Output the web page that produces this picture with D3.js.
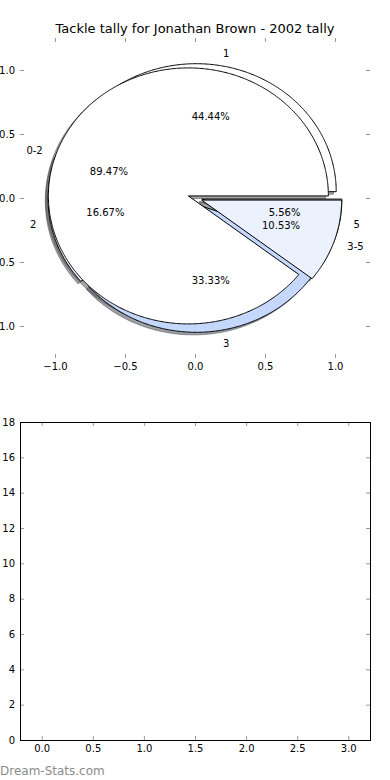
<!DOCTYPE html>
<html>
<head>
<meta charset="utf-8">
<script src="https://cdn.jsdelivr.net/npm/d3@7"></script>
<style>
body { margin: 0; background: #fff; }
svg text { font-family: "DejaVu Sans", sans-serif; }
</style>
</head>
<body>
<div id="chart"></div>
<script>
// tackles per game -> number of games
var tallyLabels = ["1", "2", "3", "5"];
var tallyCounts = [8, 3, 6, 1];
var tallyColors = ["#ffffff", "#ebf1fd", "#c5d8fc", "#ffffff"];

// grouped
var groupLabels = ["0-2", "3-5"];
var groupCounts = [17, 2];
var groupColors = ["#ffffff", "#ebf1fd"];

var explode = 0.05;
var pieTicks = [-1.0, -0.5, 0.0, 0.5, 1.0];
var barXTicks = [0, 0.5, 1, 1.5, 2, 2.5, 3];
var barYTicks = [0, 2, 4, 6, 8, 10, 12, 14, 16, 18];

var W = 390, H = 780;
var svg = d3.select("#chart").append("svg").attr("width", W).attr("height", H);

var pieBox = {left: 20, right: 370, top: 38, bottom: 358};
var barBox = {left: 20, right: 370, top: 422, bottom: 740};

var px = d3.scaleLinear().domain([-1.25, 1.25]).range([pieBox.left, pieBox.right]);
var py = d3.scaleLinear().domain([-1.25, 1.25]).range([pieBox.bottom, pieBox.top]);

var bx = d3.scaleLinear().domain([-0.2125, 3.2125]).range([barBox.left, barBox.right]);
var by = d3.scaleLinear().domain([0, 18]).range([barBox.bottom, barBox.top]);

// title
svg.append("text")
  .attr("x", (pieBox.left + pieBox.right) / 2)
  .attr("y", 33)
  .attr("text-anchor", "middle")
  .attr("font-size", 13)
  .text("Tackle tally for Jonathan Brown - 2002 tally");

// wedge geometry, angles counterclockwise from 3 o'clock like matplotlib
function wedges(counts) {
  var total = d3.sum(counts), a = 0;
  return counts.map(function (c, i) {
    var t1 = a, t2 = a + 360 * c / total;
    a = t2;
    var mid = (t1 + t2) / 2 * Math.PI / 180;
    return {
      t1: t1, t2: t2, mid: mid, i: i, frac: c / total,
      cx: explode * Math.cos(mid), cy: explode * Math.sin(mid)
    };
  });
}

function wedgePoints(w, dx, dy) {
  var pts = [[w.cx + dx, w.cy + dy]];
  var n = Math.max(4, Math.ceil((w.t2 - w.t1) * 2));
  for (var k = 0; k <= n; k++) {
    var t = (w.t1 + (w.t2 - w.t1) * k / n) * Math.PI / 180;
    pts.push([w.cx + dx + Math.cos(t), w.cy + dy + Math.sin(t)]);
  }
  return pts;
}

var line = d3.line()
  .x(function (d) { return px(d[0]); })
  .y(function (d) { return py(d[1]); });

var pies = [
  {labels: tallyLabels, colors: tallyColors, w: wedges(tallyCounts)},
  {labels: groupLabels, colors: groupColors, w: wedges(groupCounts)}
];

function shadowColor(c) {
  var rgb = d3.rgb(c);
  return d3.rgb(rgb.r * 0.3, rgb.g * 0.3, rgb.b * 0.3).toString();
}

var gPie = svg.append("g");

// shadows sit below every wedge
pies.forEach(function (p) {
  gPie.selectAll(null)
    .data(p.w)
    .enter().append("path")
    .attr("d", function (d) { return line(wedgePoints(d, -0.02, -0.02)) + "Z"; })
    .attr("fill", function (d) { return shadowColor(p.colors[d.i]); })
    .attr("stroke", function (d) { return shadowColor(p.colors[d.i]); })
    .attr("fill-opacity", 0.5)
    .attr("stroke-opacity", 0.5);
});

pies.forEach(function (p) {
  gPie.selectAll(null)
    .data(p.w)
    .enter().append("path")
    .attr("d", function (d) { return line(wedgePoints(d, 0, 0)) + "Z"; })
    .attr("fill", function (d) { return p.colors[d.i]; })
    .attr("stroke", "#000")
    .attr("stroke-width", 1)
    .attr("stroke-linejoin", "miter");
});

pies.forEach(function (p) {
  // percentages
  gPie.selectAll(null)
    .data(p.w)
    .enter().append("text")
    .attr("x", function (d) { return px(d.cx + 0.6 * Math.cos(d.mid)); })
    .attr("y", function (d) { return py(d.cy + 0.6 * Math.sin(d.mid)); })
    .attr("dy", "0.4em")
    .attr("text-anchor", "middle")
    .attr("font-size", 10)
    .text(function (d) { return (d.frac * 100).toFixed(2) + "%"; });
  // labels
  gPie.selectAll(null)
    .data(p.w)
    .enter().append("text")
    .attr("x", function (d) { return px(d.cx + 1.1 * Math.cos(d.mid)); })
    .attr("y", function (d) { return py(d.cy + 1.1 * Math.sin(d.mid)); })
    .attr("dy", "0.4em")
    .attr("text-anchor", function (d) { return Math.cos(d.mid) > 0 ? "start" : "end"; })
    .attr("font-size", 10)
    .text(function (d) { return p.labels[d.i]; });
});

function styleAxis(g) {
  g.attr("font-family", null).attr("font-size", 10);
  g.select(".domain").remove();
  g.selectAll(".tick line").attr("stroke", "#999");
  g.selectAll(".tick text").attr("fill", "#000");
}

var fmt1 = d3.format(".1f");

// pie axes: ticks only, no frame
svg.append("g")
  .attr("transform", "translate(0," + pieBox.bottom + ")")
  .call(d3.axisBottom(px).tickValues(pieTicks).tickSize(-4).tickPadding(5).tickFormat(fmt1))
  .call(styleAxis);
svg.append("g")
  .attr("transform", "translate(0," + pieBox.top + ")")
  .call(d3.axisTop(px).tickValues(pieTicks).tickSize(-4).tickFormat(""))
  .call(styleAxis);
svg.append("g")
  .attr("transform", "translate(" + pieBox.left + ",0)")
  .call(d3.axisLeft(py).tickValues(pieTicks).tickSize(-4).tickPadding(5).tickFormat(fmt1))
  .call(styleAxis);
svg.append("g")
  .attr("transform", "translate(" + pieBox.right + ",0)")
  .call(d3.axisRight(py).tickValues(pieTicks).tickSize(-4).tickFormat(""))
  .call(styleAxis);

// empty lower axes
svg.append("g")
  .attr("transform", "translate(0," + barBox.bottom + ")")
  .call(d3.axisBottom(bx).tickValues(barXTicks).tickSize(-4).tickPadding(5).tickFormat(fmt1))
  .call(styleAxis);
svg.append("g")
  .attr("transform", "translate(0," + barBox.top + ")")
  .call(d3.axisTop(bx).tickValues(barXTicks).tickSize(-4).tickFormat(""))
  .call(styleAxis);
svg.append("g")
  .attr("transform", "translate(" + barBox.left + ",0)")
  .call(d3.axisLeft(by).tickValues(barYTicks).tickSize(-4).tickPadding(5).tickFormat(d3.format("d")))
  .call(styleAxis);
svg.append("g")
  .attr("transform", "translate(" + barBox.right + ",0)")
  .call(d3.axisRight(by).tickValues(barYTicks).tickSize(-4).tickFormat(""))
  .call(styleAxis);

svg.append("rect")
  .attr("x", barBox.left)
  .attr("y", barBox.top)
  .attr("width", barBox.right - barBox.left)
  .attr("height", barBox.bottom - barBox.top)
  .attr("fill", "none")
  .attr("stroke", "#000")
  .attr("shape-rendering", "crispEdges");

// watermark
svg.append("text")
  .attr("x", 0)
  .attr("y", 775)
  .attr("font-size", 12)
  .attr("fill", "#8c8c8c")
  .text("Dream-Stats.com");
</script>
</body>
</html>
